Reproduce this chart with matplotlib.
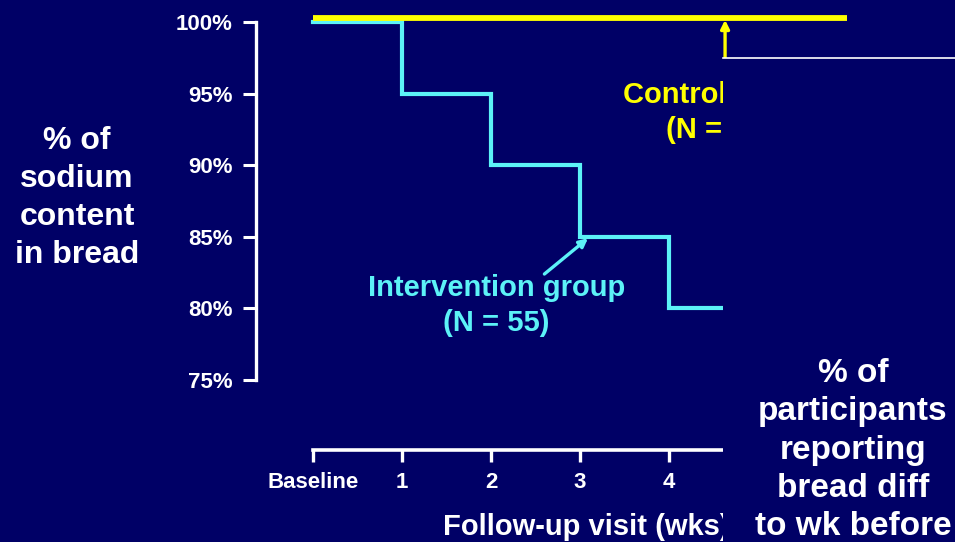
import matplotlib
matplotlib.use("Agg")
import matplotlib.pyplot as plt
from matplotlib.patches import Rectangle
from matplotlib.lines import Line2D
import matplotlib.transforms as mtransforms

# Follow-up visits (weeks) and sodium content of the bread (% of baseline)
weeks = [0, 1, 2, 3, 4, 5, 6]
week_labels = ["Baseline", "1", "2", "3", "4"]
intervention = [100, 95, 90, 85, 80, 80]
control = [100, 100, 100, 100, 100, 100, 100]
y_ticks = [75, 80, 85, 90, 95, 100]
y_tick_labels = ["75%", "80%", "85%", "90%", "95%", "100%"]

NAVY = "#000066"
CYAN = "#5CF2F7"
YELLOW = "#FFFF00"
WHITE = "#FFFFFF"
FONT = "Liberation Sans"

W, H = 955, 542
fig = plt.figure(figsize=(W / 100, H / 100), dpi=100, facecolor=NAVY)
plt.rcParams["font.family"] = [FONT, "DejaVu Sans"]
plt.rcParams["font.weight"] = "bold"


def px_box(x0, y0, x1, y1):
    """Figure-fraction rectangle from pixel corners (origin top-left)."""
    return [x0 / W, 1 - y1 / H, (x1 - x0) / W, (y1 - y0) / H]


# axes: left spine at x=256px, 75%..100% spans y=380..22px, week 0 at x=313px, 89px/week
x_left = (256 - 313) / 89
x_right = (955 - 313) / 89
ax = fig.add_axes(px_box(256, 22, 955, 380))
ax.set_facecolor(NAVY)
ax.set_xlim(x_left, x_right)
ax.set_ylim(75, 100)

# control line drawn a few pixels above so both 100% runs stay visible
lift = mtransforms.offset_copy(ax.transData, fig=fig, x=0, y=4.5, units="dots")
ax.plot(weeks, control, drawstyle="steps-post", color=YELLOW, lw=4.2,
        transform=lift, clip_on=False, solid_capstyle="butt", zorder=4)
ax.plot(weeks[:len(intervention)], intervention, drawstyle="steps-post",
        color=CYAN, lw=3.0, clip_on=False, solid_joinstyle="miter", zorder=3)

# spines
for s in ("top", "right"):
    ax.spines[s].set_visible(False)
ax.spines["left"].set_color(WHITE)
ax.spines["left"].set_linewidth(2.4)
ax.spines["left"].set_bounds(75, 100)
ax.spines["bottom"].set_color(WHITE)
ax.spines["bottom"].set_linewidth(2.6)
ax.spines["bottom"].set_position(("outward", 70 * 0.72))
ax.spines["bottom"].set_bounds(0, x_right)

ax.set_yticks(y_ticks)
ax.set_yticklabels(y_tick_labels)
ax.set_xticks(weeks[:len(week_labels)])
ax.set_xticklabels(week_labels)
ax.tick_params(axis="y", direction="out", length=9.5, width=2.2, color=WHITE,
               labelcolor=WHITE, labelsize=16, pad=7.5)
ax.tick_params(axis="x", direction="out", length=8.5, width=2.4, color=WHITE,
               labelcolor=WHITE, labelsize=16, pad=7)
for lab in ax.get_xticklabels() + ax.get_yticklabels():
    lab.set_fontweight("bold")
    lab.set_fontfamily(FONT)

# series annotations
ax.annotate("", xy=(3.09, 84.9), xytext=(2.6, 82.4),
            arrowprops=dict(arrowstyle="-|>,head_length=0.5,head_width=0.25",
                            color=CYAN, lw=2.4, shrinkA=0, shrinkB=0))
ax.text(2.06, 80.2, "Intervention group\n(N = 55)", color=CYAN, fontsize=21,
        fontweight="bold", ha="center", va="center", linespacing=1.31,
        multialignment="center")
ax.annotate("", xy=(4.63, 100.15), xytext=(4.63, 96.6),
            arrowprops=dict(arrowstyle="-|>,head_length=0.5,head_width=0.25",
                            color=YELLOW, lw=2.4, shrinkA=0, shrinkB=0),
            annotation_clip=False)
ax.text(4.57, 93.7, "Control group\n(N = 55)", color=YELLOW, fontsize=21,
        fontweight="bold", ha="center", va="center", linespacing=1.31,
        multialignment="center")

# axis titles
fig.text(77 / W, 1 - 198 / H, "% of\nsodium\ncontent\nin bread", color=WHITE,
         fontsize=23, fontweight="bold", ha="center", va="center",
         linespacing=1.36)
fig.text(443 / W, 1 - 527 / H, "Follow-up visit (wks)", color=WHITE,
         fontsize=21, fontweight="bold", ha="left", va="center")

# panel laid over the right side
panel = Rectangle((723 / W, 0), (W - 723) / W, (H - 58) / H,
                  transform=fig.transFigure, facecolor=NAVY, edgecolor="none",
                  zorder=10)
fig.patches.append(panel)
fig.lines.append(Line2D([723 / W, 1], [1 - 57.5 / H, 1 - 57.5 / H],
                        transform=fig.transFigure, color=WHITE, lw=1.2,
                        zorder=11))
fig.text(853 / W, 1 - 450 / H,
         "% of\nparticipants\nreporting\nbread diff\nto wk before",
         color=WHITE, fontsize=24, fontweight="bold", ha="center", va="center",
         linespacing=1.3, zorder=12)

fig.savefig("out.png", dpi=100, facecolor=NAVY)
